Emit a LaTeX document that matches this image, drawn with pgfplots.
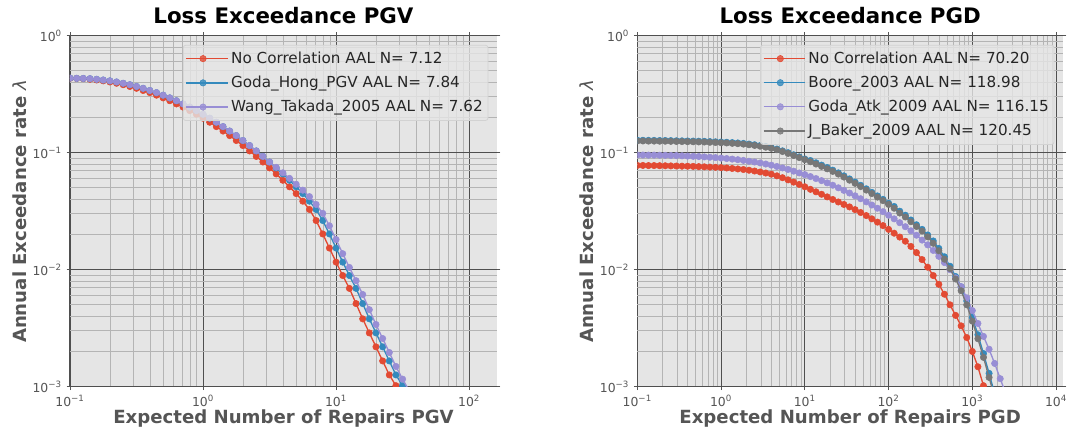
\documentclass[border=0pt]{standalone}
\usepackage{fontspec}
\setmainfont{DejaVu Sans}
\usepackage{pgfplots}
\usepackage{pgfplotstable}
\pgfplotsset{compat=1.18}

\definecolor{ggred}{HTML}{E24A33}
\definecolor{ggblue}{HTML}{348ABD}
\definecolor{ggpurple}{HTML}{988ED5}
\definecolor{gggray}{HTML}{777777}
\definecolor{ggbg}{HTML}{E5E5E5}
\definecolor{ggtext}{HTML}{555555}
\definecolor{majgrid}{HTML}{4F4F4F}
\definecolor{mingrid}{HTML}{B4B4B4}
\definecolor{legedge}{HTML}{D2D2D2}

\newcommand\tp[1]{10\textsuperscript{#1}}

% PGV: expected repairs vs annual exceedance rate
\pgfplotstableread{
x       r        b        p
0.1     0.432    0.434    0.434
0.1122  0.431    0.432    0.432
0.1259  0.429    0.431    0.431
0.1413  0.424    0.429    0.429
0.1585  0.418    0.424    0.424
0.1778  0.411    0.418    0.418
0.1995  0.402    0.411    0.411
0.2239  0.392    0.402    0.402
0.2512  0.381    0.392    0.392
0.2818  0.368    0.381    0.381
0.3162  0.355    0.368    0.368
0.3548  0.340    0.355    0.355
0.3981  0.326    0.340    0.340
0.4467  0.310    0.326    0.326
0.5012  0.294    0.310    0.310
0.5623  0.278    0.294    0.294
0.6310  0.261    0.278    0.278
0.7079  0.245    0.261    0.261
0.7943  0.229    0.245    0.245
0.8913  0.213    0.229    0.229
1       0.197    0.213    0.213
1.122   0.182    0.197    0.197
1.259   0.167    0.182    0.182
1.413   0.153    0.167    0.167
1.585   0.140    0.153    0.153
1.778   0.127    0.140    0.140
1.995   0.115    0.127    0.127
2.239   0.1035   0.115    0.115
2.512   0.0929   0.1035   0.1035
2.818   0.0832   0.0929   0.0929
3.162   0.0741   0.0832   0.0832
3.548   0.0658   0.0741   0.0750
3.981   0.0581   0.0658   0.0673
4.467   0.0511   0.0581   0.0603
5.012   0.0447   0.0511   0.0537
5.623   0.0385   0.0447   0.0478
6.310   0.0327   0.0385   0.0421
7.079   0.0263   0.0327   0.0361
7.943   0.0202   0.0263   0.0303
8.913   0.0153   0.0202   0.0237
10      0.0116   0.0153   0.0181
11.22   0.00891  0.0116   0.0137
12.59   0.00692  0.00891  0.01045
14.13   0.00513  0.00692  0.00805
15.85   0.00380  0.00513  0.00614
17.78   0.00288  0.00380  0.00455
19.95   0.00219  0.00288  0.00340
22.39   0.00166  0.00219  0.00258
25.12   0.00126  0.00166  0.00196
28.18   0.00102  0.00126  0.00149
31.62   0.00079  0.00102  0.00116
35.48   nan      0.00079  0.00092
39.81   nan      nan      0.00072
}\pgvdata

% PGD
\pgfplotstableread{
x       r        b        p        g
0.1     0.0778   0.1277   0.0955   0.1259
0.1166  0.0778   0.1277   0.0955   0.1259
0.1359  0.0776   0.1274   0.0953   0.1256
0.1585  0.0776   0.1274   0.0953   0.1256
0.1848  0.0774   0.1271   0.0951   0.1253
0.2154  0.0773   0.1271   0.0949   0.1253
0.2512  0.0771   0.1268   0.0946   0.1250
0.2929  0.0769   0.1264   0.0944   0.1247
0.3415  0.0767   0.1262   0.0940   0.1245
0.3981  0.0766   0.1259   0.0935   0.1242
0.4642  0.0764   0.1256   0.0931   0.1239
0.5412  0.0760   0.1253   0.0927   0.1236
0.6310  0.0757   0.1250   0.0920   0.1233
0.7356  0.0753   0.1244   0.0914   0.1227
0.8577  0.0750   0.1239   0.0908   0.1222
1       0.0745   0.1233   0.0899   0.1216
1.166   0.0740   0.1228   0.0891   0.1211
1.359   0.0733   0.1219   0.0881   0.1202
1.585   0.0726   0.1211   0.0871   0.1194
1.848   0.0718   0.1200   0.0859   0.1183
2.154   0.0708   0.1185   0.0845   0.1169
2.512   0.0697   0.1169   0.0832   0.1153
2.929   0.0684   0.1151   0.0817   0.1135
3.415   0.0670   0.1130   0.0800   0.1114
3.981   0.0655   0.1104   0.0782   0.1089
4.642   0.0634   0.1074   0.0762   0.1059
5.412   0.0611   0.1037   0.0741   0.1023
6.310   0.0586   0.1000   0.0719   0.0986
7.356   0.0560   0.0959   0.0695   0.0946
8.577   0.0535   0.0921   0.0671   0.0908
10      0.0511   0.0883   0.0649   0.0871
11.66   0.0486   0.0857   0.0625   0.0836
13.59   0.0463   0.0820   0.0601   0.0800
15.85   0.0441   0.0783   0.0577   0.0764
18.48   0.0419   0.0746   0.0552   0.0728
21.54   0.0398   0.0709   0.0527   0.0692
25.12   0.0379   0.0672   0.0501   0.0656
29.29   0.0361   0.0634   0.0476   0.0619
34.15   0.0344   0.0597   0.0452   0.0582
39.81   0.0326   0.0561   0.0428   0.0547
46.42   0.0308   0.0526   0.0404   0.0513
54.12   0.0290   0.0491   0.0380   0.0479
63.10   0.0272   0.0458   0.0357   0.0447
73.56   0.0255   0.0427   0.0335   0.0417
85.77   0.0238   0.0399   0.0313   0.0389
100     0.0221   0.0370   0.0292   0.0361
116.6   0.0205   0.0347   0.0272   0.0335
135.9   0.0190   0.0316   0.0252   0.0305
158.5   0.0175   0.0292   0.0233   0.0282
184.8   0.0158   0.0266   0.0215   0.0257
215.4   0.0140   0.0242   0.0197   0.0234
251.2   0.0122   0.0221   0.0179   0.0214
292.9   0.0105   0.0198   0.0163   0.0191
341.5   0.00891  0.0176   0.0146   0.0168
398.1   0.00750  0.0152   0.0130   0.0145
464.2   0.00617  0.0129   0.0115   0.0123
541.2   0.00501  0.0107   0.0100   0.0102
631.0   0.00407  0.00874  0.00851  0.00832
735.6   0.00331  0.00714  0.00716  0.00661
857.7   0.00263  0.00541  0.00575  0.00501
1000    0.00200  0.00392  0.00447  0.00363
1166    0.00148  0.00278  0.00347  0.00257
1359    0.00102  0.00192  0.00269  0.00178
1585    0.00068  0.00130  0.00209  0.00120
1848    nan      0.00087  0.00158  0.00081
2154    nan      nan      0.00117  nan
2512    nan      nan      0.00087  nan
}\pgddata

\begin{document}
\begin{tikzpicture}
\useasboundingbox (0,0) rectangle (808.5pt,322.5pt);

\begin{axis}[
  scale only axis, at={(52.5pt,32.5pt)}, anchor=south west,
  width=320.25pt, height=263.25pt,
  xmode=log, ymode=log,
  xmin=0.1, xmax=162, ymin=1e-3, ymax=1,
  axis background/.style={fill=ggbg},
  axis line style={draw=none},
  grid=both,
  major grid style={draw=majgrid, line width=0.8pt},
  minor grid style={draw=mingrid, line width=0.7pt},
  tick align=outside, major tick length=2.6pt, minor tick length=0pt,
  tick style={ggtext, line width=0.6pt},
  tick label style={font=\fontsize{9.3}{10}\selectfont, text=ggtext},
  xtick={0.1,1,10,100},
  xticklabels={\tp{−1},\tp{0},\tp{1},\tp{2}},
  minor xtick={0.2,0.3,0.4,0.5,0.6,0.7,0.8,0.9,2,3,4,5,6,7,8,9,
    20,30,40,50,60,70,80,90},
  ytick={0.001,0.01,0.1,1},
  yticklabels={\tp{−3},\tp{−2},\tp{−1},\tp{0}},
  minor ytick={0.002,0.003,0.004,0.005,0.006,0.007,0.008,0.009,
    0.02,0.03,0.04,0.05,0.06,0.07,0.08,0.09,
    0.2,0.3,0.4,0.5,0.6,0.7,0.8,0.9},
  clip marker paths=true,
  title={Loss Exceedance PGV},
  title style={at={(axis description cs:0.5,1.0114)}, anchor=base,
    font=\fontsize{16}{18}\selectfont\bfseries},
  xlabel={Expected Number of Repairs PGV},
  xlabel style={at={(axis description cs:0.5,-0.1054)}, anchor=base,
    font=\fontsize{13.6}{15}\selectfont\bfseries, text=ggtext},
  ylabel={Annual Exceedance rate {\mdseries\itshape λ}},
  ylabel style={at={(axis description cs:-0.103,0.5)}, anchor=base,
    font=\fontsize{13.6}{15}\selectfont\bfseries, text=ggtext},
  legend style={at={(0.98,0.974)}, anchor=north east,
    font=\fontsize{11.4}{13.5}\selectfont, fill=ggbg, fill opacity=0.8,
    draw opacity=1, text opacity=1,
    draw=legedge, line width=0.6pt, rounded corners=2pt,
    inner xsep=2pt, inner ysep=3pt, row sep=4pt, text=black!85},
  legend cell align=left,
  legend image code/.code={\draw[mark repeat=2,mark phase=2,#1]
    plot coordinates {(0pt,0pt) (12.4pt,0pt) (24.8pt,0pt)};
    \path (0pt,0pt) -- (31pt,0pt);},
  every axis plot/.append style={line width=1pt, mark=*, mark size=2.4pt,
    mark options={solid, line width=0.4pt}},
]
\addplot[ggred] table[x=x,y=r]{\pgvdata};
\addlegendentry{No Correlation AAL N= 7.12}
\addplot[ggblue] table[x=x,y=b]{\pgvdata};
\addlegendentry{Goda\_Hong\_PGV AAL N= 7.84}
\addplot[ggpurple] table[x=x,y=p]{\pgvdata};
\addlegendentry{Wang\_Takada\_2005 AAL N= 7.62}
\end{axis}

\begin{axis}[
  scale only axis, at={(478pt,32.5pt)}, anchor=south west,
  width=319.25pt, height=263.25pt,
  xmode=log, ymode=log,
  xmin=0.1, xmax=12100, ymin=1e-3, ymax=1,
  axis background/.style={fill=ggbg},
  axis line style={draw=none},
  grid=both,
  major grid style={draw=majgrid, line width=0.8pt},
  minor grid style={draw=mingrid, line width=0.7pt},
  tick align=outside, major tick length=2.6pt, minor tick length=0pt,
  tick style={ggtext, line width=0.6pt},
  tick label style={font=\fontsize{9.3}{10}\selectfont, text=ggtext},
  xtick={0.1,1,10,100,1000,10000},
  xticklabels={\tp{−1},\tp{0},\tp{1},\tp{2},\tp{3},\tp{4}},
  minor xtick={0.2,0.3,0.4,0.5,0.6,0.7,0.8,0.9,2,3,4,5,6,7,8,9,
    20,30,40,50,60,70,80,90,200,300,400,500,600,700,800,900,
    2000,3000,4000,5000,6000,7000,8000,9000},
  ytick={0.001,0.01,0.1,1},
  yticklabels={\tp{−3},\tp{−2},\tp{−1},\tp{0}},
  minor ytick={0.002,0.003,0.004,0.005,0.006,0.007,0.008,0.009,
    0.02,0.03,0.04,0.05,0.06,0.07,0.08,0.09,
    0.2,0.3,0.4,0.5,0.6,0.7,0.8,0.9},
  clip marker paths=true,
  title={Loss Exceedance PGD},
  title style={at={(axis description cs:0.5,1.0114)}, anchor=base,
    font=\fontsize{16}{18}\selectfont\bfseries},
  xlabel={Expected Number of Repairs PGD},
  xlabel style={at={(axis description cs:0.5,-0.1054)}, anchor=base,
    font=\fontsize{13.6}{15}\selectfont\bfseries, text=ggtext},
  ylabel={Annual Exceedance rate {\mdseries\itshape λ}},
  ylabel style={at={(axis description cs:-0.104,0.5)}, anchor=base,
    font=\fontsize{13.6}{15}\selectfont\bfseries, text=ggtext},
  legend style={at={(0.98,0.974)}, anchor=north east,
    font=\fontsize{11.4}{13.5}\selectfont, fill=ggbg, fill opacity=0.8,
    draw opacity=1, text opacity=1,
    draw=legedge, line width=0.6pt, rounded corners=2pt,
    inner xsep=2pt, inner ysep=3pt, row sep=4pt, text=black!85},
  legend cell align=left,
  legend image code/.code={\draw[mark repeat=2,mark phase=2,#1]
    plot coordinates {(0pt,0pt) (12.4pt,0pt) (24.8pt,0pt)};
    \path (0pt,0pt) -- (31pt,0pt);},
  every axis plot/.append style={line width=1pt, mark=*, mark size=2.4pt,
    mark options={solid, line width=0.4pt}},
]
\addplot[ggred] table[x=x,y=r]{\pgddata};
\addlegendentry{No Correlation AAL N= 70.20}
\addplot[ggblue] table[x=x,y=b]{\pgddata};
\addlegendentry{Boore\_2003 AAL N= 118.98}
\addplot[ggpurple] table[x=x,y=p]{\pgddata};
\addlegendentry{Goda\_Atk\_2009 AAL N= 116.15}
\addplot[gggray] table[x=x,y=g]{\pgddata};
\addlegendentry{J\_Baker\_2009 AAL N= 120.45}
\end{axis}
\end{tikzpicture}
\end{document}
